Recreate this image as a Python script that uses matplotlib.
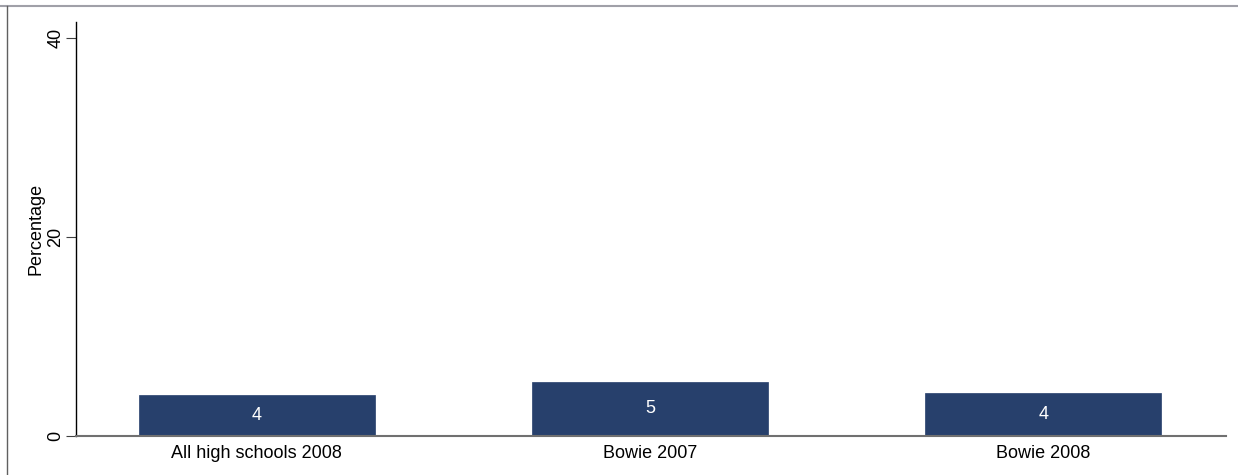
import matplotlib
matplotlib.use("Agg")
import matplotlib.pyplot as plt
from matplotlib.lines import Line2D

categories = ["All high schools 2008", "Bowie 2007", "Bowie 2008"]
values = [4.04, 5.35, 4.28]
value_labels = ["4", "5", "4"]
yticks = [0, 20, 40]

plt.rcParams['font.family'] = ['Liberation Sans', 'DejaVu Sans']
FS = 13

fig = plt.figure(figsize=(12.38, 4.75), dpi=100)
ax = fig.add_axes([76/1238, (475-435.5)/475, (1226-76)/1238, (435.5-22)/475])

x = list(range(len(categories)))
bars = ax.bar(x, values, width=0.6, color='#27406c', edgecolor='#27406c', linewidth=0.5, zorder=2)
for b, lab in zip(bars, value_labels):
    ax.text(b.get_x() + b.get_width()/2, b.get_height()/2, lab, ha='center', va='center',
            color='white', fontsize=FS)

ax.set_xlim(-0.46, 2.465)
ax.set_ylim(0, 41.6)
ax.set_xticks(x)
ax.set_xticklabels(categories, fontsize=FS)
ax.tick_params(axis='x', length=0, pad=7)
ax.set_yticks(yticks)
ax.set_yticklabels([str(t) for t in yticks], rotation=90, va='center', fontsize=FS)
ax.tick_params(axis='y', length=7, width=0.8, color='#404040', pad=1.5)
ax.set_ylabel("Percentage", fontsize=FS, labelpad=2)

for s in ['top', 'right']:
    ax.spines[s].set_visible(False)
ax.spines['left'].set_color('black')
ax.spines['left'].set_linewidth(1.0)
ax.spines['bottom'].set_color('#707070')
ax.spines['bottom'].set_linewidth(1.5)

# outer frame lines (top and left)
fig.add_artist(Line2D([0, 1], [1 - 5.5/475, 1 - 5.5/475], transform=fig.transFigure,
                      color='#a0a0a8', linewidth=1.5))
fig.add_artist(Line2D([7/1238, 7/1238], [0, 1 - 5.5/475], transform=fig.transFigure,
                      color='#606060', linewidth=1.0))

fig.savefig("out.png", dpi=100)
